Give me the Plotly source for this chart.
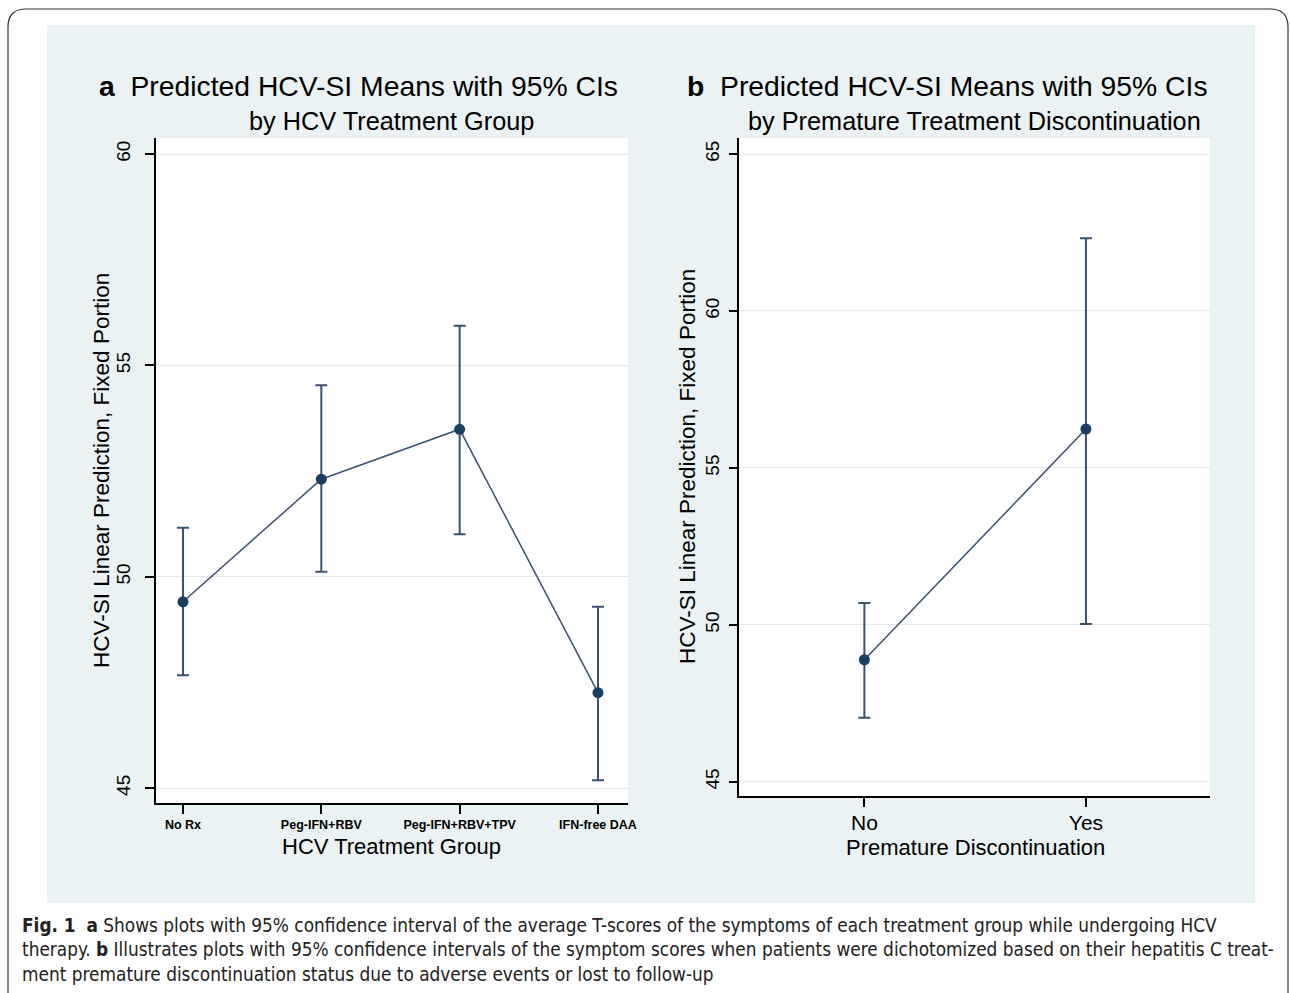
import plotly.graph_objects as go

# ---- Data ----
groups_a = ["No Rx", "Peg-IFN+RBV", "Peg-IFN+RBV+TPV", "IFN-free DAA"]
mean_a = [49.41, 52.31, 53.49, 47.26]
upper_a = [51.16, 54.53, 55.94, 49.29]
lower_a = [47.67, 50.12, 51.01, 45.19]

groups_b = ["No", "Yes"]
mean_b = [48.89, 56.24]
upper_b = [50.70, 62.32]
lower_b = [47.04, 50.03]

yticks_a = [45, 50, 55, 60]
yticks_b = [45, 50, 55, 60, 65]

W, H = 1290, 993
FIG_W = 1299
def px(x): return x / W
def py(y): return 1 - y / H

NAVY = "#1a3d63"
BAR = "#3b5170"
BG = "#eaf2f3"
GRID = "#e4eaec"

fig = go.Figure()

xa = list(range(len(groups_a)))
xb = list(range(len(groups_b)))

fig.add_trace(go.Scatter(
    x=xa, y=mean_a, mode="lines+markers", xaxis="x", yaxis="y",
    line=dict(color=BAR, width=1.5),
    marker=dict(color=NAVY, size=11, symbol="circle"),
    error_y=dict(type="data", symmetric=False,
                 array=[u - m for u, m in zip(upper_a, mean_a)],
                 arrayminus=[m - l for m, l in zip(mean_a, lower_a)],
                 color=BAR, thickness=2, width=6),
    showlegend=False, hoverinfo="skip"))

fig.add_trace(go.Scatter(
    x=xb, y=mean_b, mode="lines+markers", xaxis="x2", yaxis="y2",
    line=dict(color=BAR, width=1.5),
    marker=dict(color=NAVY, size=11, symbol="circle"),
    error_y=dict(type="data", symmetric=False,
                 array=[u - m for u, m in zip(upper_b, mean_b)],
                 arrayminus=[m - l for m, l in zip(mean_b, lower_b)],
                 color=BAR, thickness=2, width=6),
    showlegend=False, hoverinfo="skip"))

axis_common = dict(showline=True, linecolor="black", linewidth=1.5,
                   ticks="outside", tickcolor="black", tickwidth=1.5,
                   zeroline=False)

fig.update_layout(
    width=FIG_W, height=H,
    margin=dict(l=0, r=0, t=0, b=0),
    paper_bgcolor="white",
    plot_bgcolor="white",
    font=dict(family="Liberation Sans, Arial, sans-serif", color="black"),
    xaxis=dict(domain=[px(156), px(628)], anchor="y",
               range=[-0.195, 3.217], tickvals=xa, ticktext=groups_a,
               ticklen=9, showgrid=False,
               tickfont=dict(size=12.5, family="Liberation Sans, Arial", weight="bold"),
               **axis_common),
    yaxis=dict(domain=[py(803), py(138)], anchor="x",
               range=[44.65, 60.38], tickvals=yticks_a, ticklen=9,
               tickangle=-90, tickfont=dict(size=19), ticklabelstandoff=8,
               showgrid=True, gridcolor=GRID, gridwidth=1,
               **axis_common),
    xaxis2=dict(domain=[px(739), px(1210)], anchor="y2",
                range=[-0.566, 1.56], tickvals=xb, ticktext=groups_b,
                ticklen=9, showgrid=False, tickfont=dict(size=21),
                ticklabelstandoff=-2,
                **axis_common),
    yaxis2=dict(domain=[py(796), py(138)], anchor="x2",
                range=[44.55, 65.51], tickvals=yticks_b, ticklen=8,
                tickangle=-90, tickfont=dict(size=19), ticklabelstandoff=3,
                showgrid=True, gridcolor=GRID, gridwidth=1,
                **axis_common),
)

shapes = []
# light panel background
shapes.append(dict(type="rect", xref="paper", yref="paper", layer="below",
                   x0=px(47), x1=px(1255), y0=py(903), y1=py(25),
                   fillcolor=BG, line=dict(width=0)))
# white plot areas over background
shapes.append(dict(type="rect", xref="paper", yref="paper", layer="below",
                   x0=px(156), x1=px(628), y0=py(803), y1=py(138),
                   fillcolor="white", line=dict(width=0)))
shapes.append(dict(type="rect", xref="paper", yref="paper", layer="below",
                   x0=px(739), x1=px(1210), y0=py(796), y1=py(138),
                   fillcolor="white", line=dict(width=0)))
# outer rounded border
r = 18
path = (f"M {px(8)} {py(993)} L {px(8)} {py(9 + r)} "
        f"Q {px(8)} {py(9)} {px(8 + r)} {py(9)} "
        f"L {px(1288 - r)} {py(9)} "
        f"Q {px(1288)} {py(9)} {px(1288)} {py(9 + r)} "
        f"L {px(1288)} {py(993)}")
shapes.append(dict(type="path", xref="paper", yref="paper", path=path,
                   line=dict(color="#333333", width=1.2)))
fig.update_layout(shapes=shapes)

ann = []
def A(x, y, text, size, **kw):
    d = dict(xref="paper", yref="paper", x=px(x), y=py(y), text=text,
             showarrow=False, font=dict(size=size, color="black"))
    d.update(kw)
    ann.append(d)

# panel titles
A(97, 86, "<b>a</b>  Predicted HCV-SI Means with 95% CIs", 28.3, xanchor="left", yanchor="middle")
A(391, 121, "by HCV Treatment Group", 25.3, xanchor="center", yanchor="middle")
A(685, 86, "<b>b</b>  Predicted HCV-SI Means with 95% CIs", 28.3, xanchor="left", yanchor="middle")
A(974, 121, "by Premature Treatment Discontinuation", 25.3, xanchor="center", yanchor="middle")
# y-axis titles
A(102, 471, "HCV-SI Linear Prediction, Fixed Portion", 22.5, textangle=-90,
  xanchor="center", yanchor="middle")
A(687, 467, "HCV-SI Linear Prediction, Fixed Portion", 22.5, textangle=-90,
  xanchor="center", yanchor="middle")
# x-axis titles
A(391, 846, "HCV Treatment Group", 22, xanchor="center", yanchor="middle")
A(975, 847, "Premature Discontinuation", 22, xanchor="center", yanchor="middle")

# caption
cap_font = "DejaVu Sans Condensed, Liberation Sans Narrow, sans-serif"
def C(y, text):
    ann.append(dict(xref="paper", yref="paper", x=px(20), y=py(y), text=text,
                    showarrow=False, xanchor="left", yanchor="middle",
                    font=dict(size=18.85, family=cap_font, color="#222222")))
C(925, "<b>Fig. 1</b>  <b>a</b> Shows plots with 95% confidence interval of the average T-scores of the symptoms of each treatment group while undergoing HCV")
C(949, "therapy. <b>b</b> Illustrates plots with 95% confidence intervals of the symptom scores when patients were dichotomized based on their hepatitis C treat-")
C(974, "ment premature discontinuation status due to adverse events or lost to follow-up")

fig.update_layout(annotations=ann)

fig.write_html("out.html", config={"displayModeBar": False},
               post_script="document.body.style.margin='0';")
